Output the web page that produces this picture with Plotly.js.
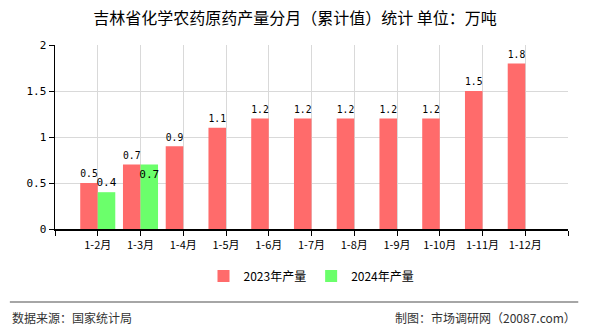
<!DOCTYPE html>
<html><head><meta charset="utf-8">
<script src="https://cdn.plot.ly/plotly-3.0.1.min.js"></script>
<style>body{margin:0;padding:0;background:#fff}#c{width:590px;height:330px}</style>
</head><body><div id="c"></div>
<script>
const categories = ["1-2月","1-3月","1-4月","1-5月","1-6月","1-7月","1-8月","1-9月","1-10月","1-11月","1-12月"];
const values2023 = [0.5,0.7,0.9,1.1,1.2,1.2,1.2,1.2,1.2,1.5,1.8];
const values2024 = [0.4,0.7,null,null,null,null,null,null,null,null,null];
const seriesNames = ["2023年产量","2024年产量"];

const idx = categories.map((_, i) => i);
const tickvals = [-1].concat(idx, [categories.length]);
const ticktext = [""].concat(categories, [""]);
const fmt = v => v == null ? "" : v.toFixed(1);
const labelFont = {family: "DejaVu Sans Mono, monospace", size: 11, color: "#000"};
// 2024 label goes inside the bar top when it would collide with the 2023 label
const pos2024 = values2024.map((v, i) => (v != null && v === values2023[i]) ? "inside" : "outside");

const traces = [
  {type: "bar", x: idx, y: values2023, name: seriesNames[0], marker: {color: "#ff6b6b"},
   text: values2023.map(fmt), textposition: "outside", textangle: 0, textfont: labelFont, cliponaxis: false, hoverinfo: "none"},
  {type: "bar", x: idx, y: values2024, name: seriesNames[1], marker: {color: "#6bff6b"},
   text: values2024.map(fmt), textposition: pos2024, textangle: 0, insidetextanchor: "end", constraintext: "none",
   textfont: labelFont, insidetextfont: labelFont, outsidetextfont: labelFont, cliponaxis: false, hoverinfo: "none"}
];

const layout = {
  width: 590, height: 330,
  margin: {l: 55, r: 22, t: 45, b: 101},
  paper_bgcolor: "#fff", plot_bgcolor: "#fff",
  font: {family: "Noto Sans CJK SC, sans-serif", size: 11, color: "#000"},
  title: {text: "吉林省化学农药原药产量分月（累计值）统计 单位：万吨", x: 0.5, xanchor: "center", y: 0.945, yanchor: "middle",
          font: {family: "Noto Sans CJK SC, sans-serif", size: 16, color: "#000"}},
  barmode: "group", bargap: 0.18, bargroupgap: 0,
  xaxis: {range: [-1, categories.length], tickmode: "array", tickvals: tickvals, ticktext: ticktext,
          showgrid: true, gridcolor: "#d9d9d9", gridwidth: 1, zeroline: false,
          showline: true, linecolor: "#000", linewidth: 1.5, ticks: "outside", ticklen: 5, tickcolor: "#000",
          tickfont: {family: "Noto Sans CJK SC, sans-serif", size: 11, color: "#000"}, fixedrange: true},
  yaxis: {range: [0, 2], tickvals: [0, 0.5, 1, 1.5, 2], ticktext: ["0","0.5","1","1.5","2"],
          showgrid: true, gridcolor: "#d9d9d9", gridwidth: 1, zeroline: false,
          showline: true, linecolor: "#000", linewidth: 1.5, ticks: "outside", ticklen: 5, tickcolor: "#000",
          tickfont: {family: "DejaVu Sans Mono, monospace", size: 11, color: "#000"}, fixedrange: true},
  showlegend: true,
  legend: {orientation: "h", x: 0.5, xanchor: "center", y: -0.255, yanchor: "middle",
           font: {family: "Noto Sans CJK SC, sans-serif", size: 12, color: "#000"}, itemwidth: 30, traceorder: "normal"},
  shapes: [{type: "line", xref: "paper", yref: "paper", x0: -0.088, x1: 1.02, y0: -0.397, y1: -0.397,
            line: {color: "#888", width: 1.5}}],
  annotations: [
    {xref: "paper", yref: "paper", x: -0.088, xanchor: "left", y: -0.48, yanchor: "middle", showarrow: false,
     text: "数据来源：国家统计局", font: {family: "Noto Sans CJK SC, sans-serif", size: 12, color: "#333"}},
    {xref: "paper", yref: "paper", x: 1.02, xanchor: "right", y: -0.48, yanchor: "middle", showarrow: false,
     text: "制图：市场调研网（20087.com）", font: {family: "Noto Sans CJK SC, sans-serif", size: 12, color: "#333"}}
  ]
};
Plotly.newPlot("c", traces, layout, {displayModeBar: false, staticPlot: true});
</script></body></html>
